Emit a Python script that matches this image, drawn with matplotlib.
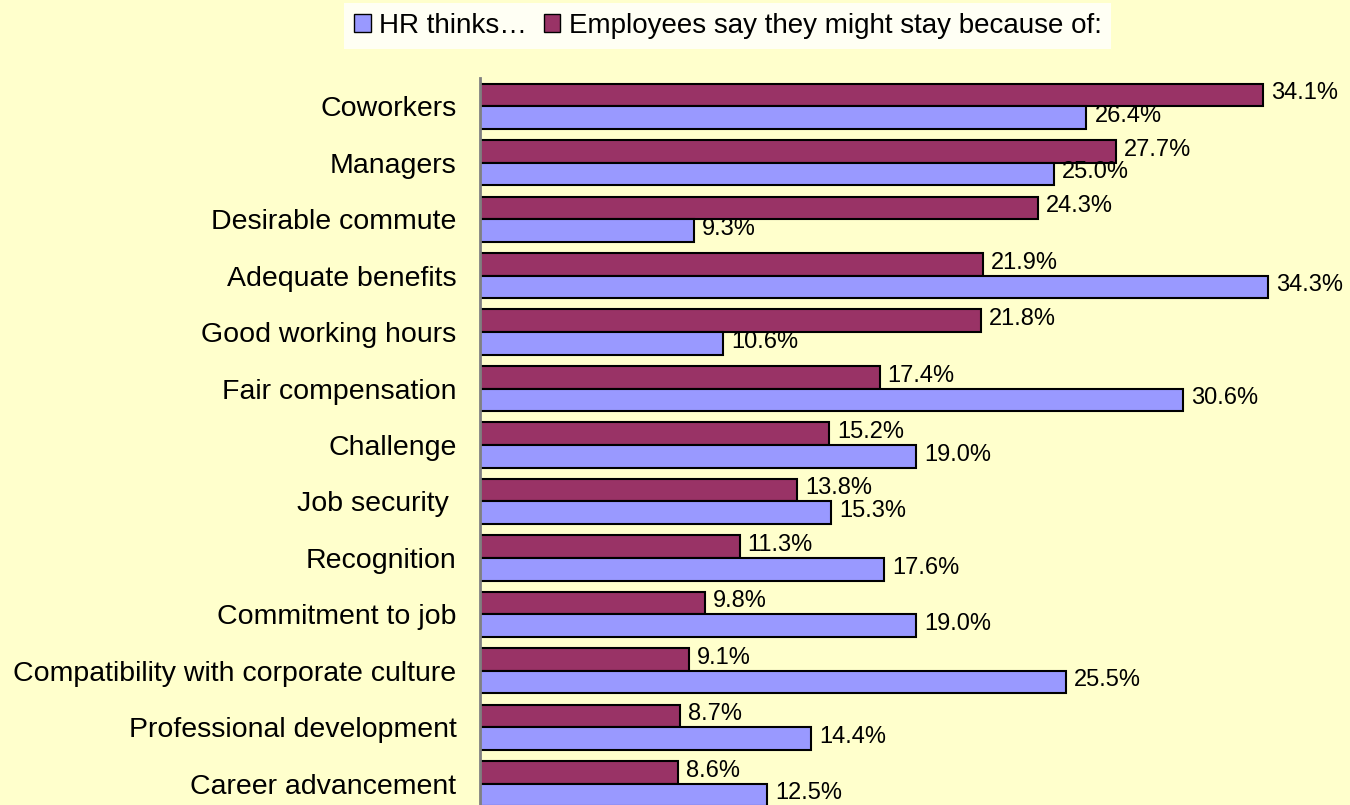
import matplotlib.pyplot as plt
import numpy as np

plt.rcParams['font.family'] = ['Liberation Sans', 'DejaVu Sans']

reasons = ['Coworkers', 'Managers', 'Desirable commute', 'Adequate benefits',
           'Good working hours', 'Fair compensation', 'Challenge', 'Job security ',
           'Recognition', 'Commitment to job', 'Compatibility with corporate culture',
           'Professional development', 'Career advancement']
hr_thinks = [26.4, 25.0, 9.3, 34.3, 10.6, 30.6, 19.0, 15.3, 17.6, 19.0, 25.5, 14.4, 12.5]
employees = [34.1, 27.7, 24.3, 21.9, 21.8, 17.4, 15.2, 13.8, 11.3, 9.8, 9.1, 8.7, 8.6]

bg = '#FFFFCC'
fig = plt.figure(figsize=(13.5, 8.05), dpi=100, facecolor=bg)
ax = fig.add_axes([480/1350, -7/805, 870/1350, 734/805])
ax.set_facecolor(bg)

y = np.arange(len(reasons))
h = 0.4
b_emp = ax.barh(y - h/2, employees, height=h, color='#993366', edgecolor='black',
                linewidth=1.5, label='Employees say they might stay because of:')
b_hr = ax.barh(y + h/2, hr_thinks, height=h, color='#9999FF', edgecolor='black',
               linewidth=1.5, label='HR thinks…')

# value labels just past the end of each bar
for bars, vals in [(b_emp, employees), (b_hr, hr_thinks)]:
    for bar, v in zip(bars, vals):
        ax.text(v + 0.35, bar.get_y() + bar.get_height()/2 - 0.03, f'{v:.1f}%',
                va='center', ha='left', fontsize=17)

ax.set_xlim(0, 870/22.97)
ax.set_ylim(len(reasons) - 0.5, -0.5)
ax.set_yticks(y)
ax.set_yticklabels(reasons, fontsize=20.5)
ax.tick_params(axis='y', length=0, pad=17)
ax.set_xticks([])
for s in ['top', 'right', 'bottom']:
    ax.spines[s].set_visible(False)
ax.spines['left'].set_color('#808080')
ax.spines['left'].set_linewidth(2)

leg = fig.legend(handles=[b_hr, b_emp], loc='upper center', bbox_to_anchor=(0.539, 0.996),
                 ncol=2, fontsize=20, frameon=True, fancybox=False,
                 handlelength=0.6, handleheight=0.6, handletextpad=0.3,
                 columnspacing=0.6, borderpad=0.35, borderaxespad=0)
leg.get_frame().set_facecolor('white')
leg.get_frame().set_edgecolor('none')
for p in leg.get_patches():
    p.set_linewidth(1)

fig.savefig('out.png', dpi=100, facecolor=bg)
